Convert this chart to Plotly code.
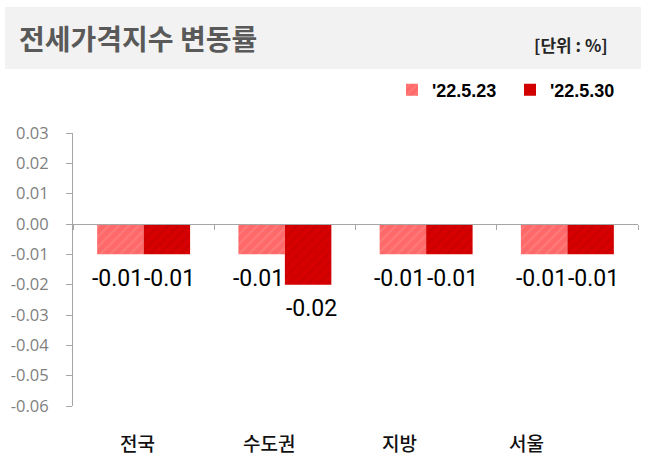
import plotly.graph_objects as go

# ---- data ----
categories = ["전국", "수도권", "지방", "서울"]
series_names = ["'22.5.23", "'22.5.30"]
values_0523 = [-0.01, -0.01, -0.01, -0.01]
values_0530 = [-0.01, -0.02, -0.01, -0.01]
y_tickvals = [0.03, 0.02, 0.01, 0.00, -0.01, -0.02, -0.03, -0.04, -0.05, -0.06]
y_ticktext = ["0.03", "0.02", "0.01", "0.00", "-0.01", "-0.02", "-0.03", "-0.04", "-0.05", "-0.06"]
title_text = "전세가격지수 변동률"
unit_text = "[단위 : %]"

# ---- layout constants ----
W, H = 647, 465
ML, MR, MT, MB = 73, 9, 133, 59
YMIN, YMAX = -0.06, 0.03
PH = H - MT - MB
PW = W - ML - MR
BARGAP = 0.342

def fmt(v):
    return ("-" if v < 0 else "") + f"{abs(v):.2f}"

light_bg, light_fg = "#FF6969", "#FF8C8C"
dark_bg, dark_fg = "#D60000", "#BE0000"
label_font = "Roboto, DejaVu Sans Condensed, sans-serif"
kr = "Noto Sans CJK KR, sans-serif"

fig = go.Figure()
fig.add_trace(go.Bar(
    x=categories, y=values_0523, name=series_names[0],
    marker=dict(color=light_bg, line=dict(width=0),
                pattern=dict(shape="/", fgcolor=light_fg, size=7, solidity=0.3)),
))
fig.add_trace(go.Bar(
    x=categories, y=values_0530, name=series_names[1],
    marker=dict(color=dark_bg, line=dict(width=0),
                pattern=dict(shape="/", fgcolor=dark_fg, size=7, solidity=0.3)),
))

annotations = []
# value labels below each bar
bar_px = PW / len(categories) * (1 - BARGAP) / 2
for vals, side in ((values_0523, -1), (values_0530, 1)):
    for c, v in zip(categories, vals):
        annotations.append(dict(x=c, xref="x", y=v, yref="y", text=fmt(v),
                                showarrow=False, xshift=side * (bar_px / 2 + 3),
                                yshift=-24, yanchor="middle",
                                font=dict(family=label_font, size=23, color="#000000")))

# category labels (slightly offset as in reference)
label_shift = [-6, -16, -27, -41]
for c, s in zip(categories, label_shift):
    annotations.append(dict(x=c, xref="x", y=-(442 - (H - MB)) / PH, yref="paper",
                            text=c, showarrow=False, xshift=s, yanchor="middle",
                            font=dict(family=kr, size=19, color="#111111", weight=500)))
annotations.append(dict(x=(17 - ML) / PW, xref="paper", xanchor="left",
                        y=(H - MB - 38) / PH, yref="paper", yanchor="middle",
                        text=title_text, showarrow=False,
                        font=dict(family=kr, size=28, color="#595959", weight=700)))
annotations.append(dict(x=(610 - ML) / PW, xref="paper", xanchor="right",
                        y=(H - MB - 44) / PH, yref="paper", yanchor="middle",
                        text=unit_text, showarrow=False,
                        font=dict(family=kr, size=17, color="#262626", weight=700)))

shapes = [
    dict(type="rect", xref="paper", yref="paper",
         x0=(5 - ML) / PW, x1=(641 - ML) / PW,
         y0=(H - MB - 69) / PH, y1=(H - MB - 7) / PH,
         fillcolor="#F2F2F2", line=dict(width=0), layer="below"),
]

fig.update_layout(
    width=W, height=H,
    margin=dict(l=ML, r=MR, t=MT, b=MB, pad=0),
    paper_bgcolor="white", plot_bgcolor="white",
    barmode="group", bargap=BARGAP, bargroupgap=0,
    showlegend=True,
    legend=dict(orientation="h", x=(392 - ML) / PW, xanchor="left",
                y=(H - MB - 90) / PH, yanchor="middle",
                font=dict(family="Liberation Sans, Arial, sans-serif", size=18,
                          color="#000000", weight=700),
                bgcolor="rgba(0,0,0,0)", itemwidth=30, traceorder="normal",
                entrywidth=73, entrywidthmode="pixels"),
    xaxis=dict(anchor="free", position=(0 - YMIN) / (YMAX - YMIN),
               showline=True, linecolor="#A6A6A6", linewidth=1,
               ticks="outside", tickson="boundaries", ticklen=5, tickcolor="#A6A6A6",
               showticklabels=False, showgrid=False, zeroline=False,
               range=[-0.5, 3.5], fixedrange=True),
    yaxis=dict(range=[YMIN, YMAX], tickvals=y_tickvals, ticktext=y_ticktext,
               showline=True, linecolor="#A6A6A6", linewidth=1,
               ticks="outside", ticklen=6, tickcolor="#A6A6A6",
               ticklabelstandoff=14,
               tickfont=dict(family="Open Sans, Noto Sans, sans-serif", size=16.5, color="#7F7F7F"),
               showgrid=False, zeroline=False),
    annotations=annotations, shapes=shapes,
)

fig.write_html("out.html")
